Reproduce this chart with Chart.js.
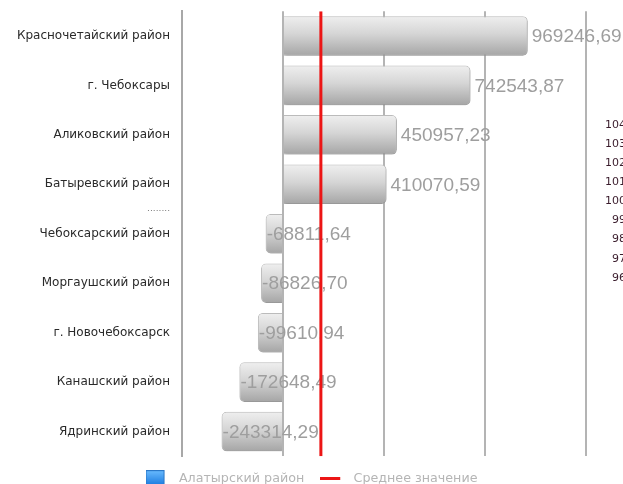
<!DOCTYPE html>
<html><head><meta charset="utf-8">
<script src="https://cdn.jsdelivr.net/npm/chart.js@4.4.1/dist/chart.umd.min.js"></script>
<style>html,body{margin:0;padding:0;background:#fff;}#wrap{width:623px;height:484px;position:relative;}</style>
</head><body><div id="wrap"><canvas id="c"></canvas></div>
<script>
const categories = ['Красночетайский район','г. Чебоксары','Аликовский район','Батыревский район','Чебоксарский район','Моргаушский район','г. Новочебоксарск','Канашский район','Ядринский район'];
const values = [969246.69, 742543.87, 450957.23, 410070.59, -68811.64, -86826.70, -99610.94, -172648.49, -243314.29];
const averageValue = 150000;
const seriesName = 'Алатырский район';
const averageName = 'Среднее значение';
const xGridValues = [-400000, 0, 400000, 800000, 1200000];
const gapLabel = '........';
const gapAfterIndex = 3;
const sideScaleLabels = ['104','103','102','101','100','99','98','97','96'];

function legendBox(){
  const c=document.createElement('canvas'); c.width=27; c.height=17;
  const g=c.getContext('2d');
  const gr=g.createLinearGradient(0,0,0,17);
  gr.addColorStop(0,'#6bbcff'); gr.addColorStop(1,'#1173dc');
  g.fillStyle=gr; g.fillRect(0,0,19,17);
  g.strokeStyle='#2a78c8'; g.lineWidth=1; g.strokeRect(0.5,0.5,18,16);
  return c;
}
function legendLine(){
  const c=document.createElement('canvas'); c.width=27; c.height=3;
  const g=c.getContext('2d'); g.fillStyle='#ec1515'; g.fillRect(0,0,20,3);
  return c;
}
const boxImg = legendBox(), lineImg = legendLine();

function barGradient(ctx){
  const chart = ctx.chart;
  if(!chart.chartArea || ctx.dataIndex === undefined) return '#cccccc';
  const ys = chart.scales.y;
  const yc = ys.getPixelForValue(ctx.dataIndex);
  const h = (ys.bottom - ys.top) / categories.length * 0.8 / 2;
  const g = chart.ctx.createLinearGradient(0, yc - h, 0, yc + h);
  g.addColorStop(0, '#efefef');
  g.addColorStop(0.45, '#d5d5d5');
  g.addColorStop(1, '#a5a5a5');
  return g;
}

const fmt = v => v.toFixed(2).replace('.', ',');

const extrasPlugin = {
  id: 'extras',
  beforeDatasetDraw(chart, args){
    if(args.index !== 0) return;
    const c = chart.ctx; c.save();
    c.shadowColor = 'rgba(0,0,0,0.22)'; c.shadowBlur = 3; c.shadowOffsetX = 1; c.shadowOffsetY = 2;
  },
  afterDatasetDraw(chart, args){
    if(args.index !== 0) return;
    const c = chart.ctx; c.restore();
    c.save();
    c.font = '19px "Liberation Sans", Arial, sans-serif';
    c.fillStyle = '#9e9e9e'; c.textBaseline = 'middle'; c.textAlign = 'left';
    args.meta.data.forEach((bar, i) => {
      const v = values[i];
      const x = v >= 0 ? bar.x + 4 : bar.x + 1;
      c.fillText(fmt(v), x, bar.y + 1);
    });
    c.restore();
  },
  afterDraw(chart){
    const c = chart.ctx, ys = chart.scales.y;
    c.save();
    c.font = '9px "DejaVu Sans", sans-serif'; c.fillStyle = '#777';
    c.textAlign = 'right'; c.textBaseline = 'middle';
    const yg = (ys.getPixelForValue(gapAfterIndex) + ys.getPixelForValue(gapAfterIndex + 1)) / 2;
    c.fillText(gapLabel, chart.chartArea.left - 12, yg);
    c.font = '11px "DejaVu Sans", sans-serif'; c.fillStyle = '#3a1c2c';
    c.textAlign = 'right';
    sideScaleLabels.forEach((t, i) => c.fillText(t, 626, 125 + i * 19.1));
    c.restore();
  }
};

new Chart(document.getElementById('c'), {
  type: 'bar',
  data: {
    labels: categories,
    datasets: [
      { type: 'bar', label: seriesName, data: values, indexAxis: 'y', xAxisID: 'x', yAxisID: 'y',
        backgroundColor: barGradient, borderColor: '#bcbcbc', borderWidth: 1, borderRadius: 5,
        barPercentage: 0.8, categoryPercentage: 1.0, grouped: false, order: 2 },
      { type: 'line', label: averageName, indexAxis: 'y', xAxisID: 'x', yAxisID: 'yAvg',
        data: [{x: averageValue, y: 0}, {x: averageValue, y: 1}],
        borderColor: '#ec1515', borderWidth: 3, pointRadius: 0, fill: false, order: 1 }
    ]
  },
  options: {
    indexAxis: 'y',
    responsive: true, maintainAspectRatio: false, animation: false,
    layout: { padding: { top: 10, left: 0, right: 0, bottom: -11 } },
    scales: {
      x: { type: 'linear', min: xGridValues[0], max: xGridValues[xGridValues.length - 1],
        ticks: { display: false, stepSize: xGridValues[1] - xGridValues[0] },
        grid: { color: '#b4b4b4', lineWidth: 2, drawTicks: false },
        border: { display: false } },
      y: { type: 'category', position: 'left',
        grid: { display: false },
        border: { display: true, color: '#a8a8a8', width: 2 },
        ticks: { color: '#2a2a2a', font: { family: '"DejaVu Sans", sans-serif', size: 12 }, padding: 4 },
        afterFit: s => { s.width = 182; } },
      yAvg: { type: 'linear', position: 'right', min: 0, max: 1, offset: false,
        ticks: { display: false }, grid: { display: false, offset: false }, border: { display: false },
        afterFit: s => { s.width = 37; } }
    },
    plugins: {
      tooltip: { enabled: false },
      legend: { position: 'bottom', align: 'center',
        labels: { usePointStyle: true, pointStyleWidth: 27, padding: 16, color: '#b5b5b5',
          font: { family: '"DejaVu Sans", sans-serif', size: 12.7 },
          generateLabels: () => [
            { text: seriesName, pointStyle: boxImg, fillStyle: '#2a8ff0', strokeStyle: 'rgba(0,0,0,0)', lineWidth: 0, hidden: false, datasetIndex: 0, fontColor: '#b5b5b5' },
            { text: averageName, pointStyle: lineImg, fillStyle: '#ec1515', strokeStyle: 'rgba(0,0,0,0)', lineWidth: 0, hidden: false, datasetIndex: 1, fontColor: '#b5b5b5' }
          ] } }
    }
  },
  plugins: [extrasPlugin]
});
</script></body></html>
